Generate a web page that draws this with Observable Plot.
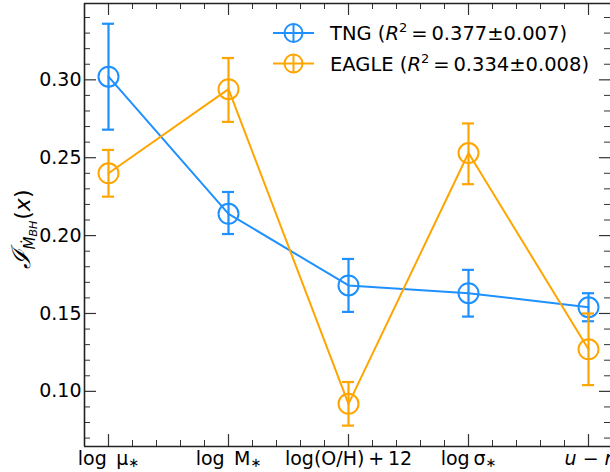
<!DOCTYPE html>
<html>
<head>
<meta charset="utf-8">
<script src="https://cdn.jsdelivr.net/npm/d3@7"></script>
<script src="https://cdn.jsdelivr.net/npm/@observablehq/plot@0.6"></script>
<style>
  html, body { margin: 0; padding: 0; background: #fff; }
  svg { font-family: "DejaVu Sans", sans-serif; }
</style>
</head>
<body>
<div id="chart"></div>
<script>
const categories = ["log μ*", "log M*", "log(O/H) + 12", "log σ*", "u − r"];
const tngValues = [0.302, 0.214, 0.168, 0.163, 0.154];
const tngLow    = [0.268, 0.201, 0.151, 0.148, 0.145];
const tngHigh   = [0.336, 0.228, 0.185, 0.178, 0.163];
const eagleValues = [0.240, 0.294, 0.092, 0.253, 0.127];
const eagleLow    = [0.225, 0.273, 0.078, 0.233, 0.104];
const eagleHigh   = [0.255, 0.314, 0.106, 0.272, 0.150];
const yTicks = [0.10, 0.15, 0.20, 0.25, 0.30];
const seriesNames = ["TNG", "EAGLE"];
const seriesR2 = ["0.377±0.007", "0.334±0.008"];

const colors = {TNG: "#1E90FF", EAGLE: "#FFA500"};
const W = 610, H = 472, mL = 84, mR = 0, mT = 3, mB = 26;
const innerW = W - mL - mR, innerH = H - mT - mB;
const xDomain = [-0.2, 4.2];
const yDomain = [0.0646, 0.349];

function rows(name, vals, lo, hi) {
  return vals.map((v, i) => ({series: name, i, v, lo: lo[i], hi: hi[i]}));
}
const tng = rows("TNG", tngValues, tngLow, tngHigh);
const eagle = rows("EAGLE", eagleValues, eagleLow, eagleHigh);

const xMajor = d3.range(categories.length);
const xMinor = d3.range(-1, 22).map(k => k * 0.2).filter(v => v >= xDomain[0] && v <= xDomain[1] && Math.abs(v - Math.round(v)) > 1e-6);
const yMinor = d3.range(7, 35).map(k => k / 100).filter(v => !yTicks.some(t => Math.abs(t - v) < 1e-6));

const tickColor = "#333";
function seriesMarks(data, color) {
  return [
    Plot.line(data, {x: "i", y: "v", stroke: color, strokeWidth: 2}),
    Plot.ruleX(data, {x: "i", y1: "lo", y2: "hi", stroke: color, strokeWidth: 2.2}),
    Plot.ruleY(data, {x1: "i", x2: "i", y: "hi", stroke: color, strokeWidth: 2.2, insetLeft: -6, insetRight: -6}),
    Plot.ruleY(data, {x1: "i", x2: "i", y: "lo", stroke: color, strokeWidth: 2.2, insetLeft: -6, insetRight: -6}),
    Plot.dot(data, {x: "i", y: "v", r: 10, stroke: color, strokeWidth: 2, fill: "none"})
  ];
}

const chart = Plot.plot({
  width: W, height: H,
  marginLeft: mL, marginRight: mR, marginTop: mT, marginBottom: mB,
  style: {fontFamily: "DejaVu Sans, sans-serif", fontSize: "19px", color: "#000", background: "#fff"},
  x: {type: "linear", domain: xDomain, range: [mL, 612], axis: null, label: null},
  y: {domain: yDomain, axis: null, label: null},
  marks: [
    // ticks (inward)
    Plot.tickX(xMajor, {x: d => d, insetTop: innerH - 12, stroke: tickColor, strokeWidth: 1.2}),
    Plot.tickX(xMinor, {x: d => d, insetTop: innerH - 6, stroke: tickColor, strokeWidth: 1}),
    Plot.tickX(xMajor, {x: d => d, insetBottom: innerH - 12, stroke: tickColor, strokeWidth: 1.2}),
    Plot.tickX(xMinor, {x: d => d, insetBottom: innerH - 6, stroke: tickColor, strokeWidth: 1}),
    Plot.tickY(yTicks, {y: d => d, insetRight: innerW - 12, stroke: tickColor, strokeWidth: 1.2}),
    Plot.tickY(yMinor, {y: d => d, insetRight: innerW - 6, stroke: tickColor, strokeWidth: 1}),
    Plot.tickY(yTicks, {y: d => d, insetLeft: innerW - 11, stroke: tickColor, strokeWidth: 1.2}),
    Plot.tickY(yMinor, {y: d => d, insetLeft: innerW - 6, stroke: tickColor, strokeWidth: 1}),
    // spines
    Plot.ruleX([xDomain[0]], {stroke: "#222", strokeWidth: 1.6}),
    Plot.ruleY(yDomain, {stroke: "#222", strokeWidth: 1.6}),
    // axes labels
    Plot.axisY({ticks: yTicks, tickSize: 0, tickPadding: 3, tickFormat: d3.format(".2f"), fontSize: 19, label: null}),
    Plot.axisX({ticks: xMajor, tickSize: 0, tickPadding: 5, tickFormat: i => categories[i], fontSize: 19, label: null}),
    ...seriesMarks(tng, colors.TNG),
    ...seriesMarks(eagle, colors.EAGLE)
  ]
});
document.getElementById("chart").appendChild(chart);

const svg = d3.select(chart);

// rich x tick labels
const richLabels = [
  [["log\u2002μ"], ["∗", "sub"]],
  [["log\u2002M"], ["∗", "sub"]],
  [["log(O/H)\u2009+\u200912"]],
  [["log\u2009σ"], ["∗", "sub"]],
  [["u", "it"], [" \u2212 "], ["r", "it"]]
];
svg.selectAll('g[aria-label="x-axis tick label"] text').each(function(d, k) {
  const t = d3.select(this);
  const parts = richLabels[k];
  if (!parts) return;
  t.text(null);
  parts.forEach(([s, kind]) => {
    const ts = t.append("tspan").text(s);
    if (kind === "it") ts.attr("font-style", "italic");
    if (kind === "sub") { ts.attr("font-size", 13).attr("dy", 2); }
  });
});

// y label
const yl = svg.append("text")
  .attr("transform", `translate(30, 229) rotate(-90)`)
  .attr("text-anchor", "middle")
  .attr("fill", "#000");
yl.append("tspan").text("ℐ").attr("font-size", 26).attr("font-style", "italic").attr("font-family", "DejaVu Serif, serif");
yl.append("tspan").text("Ṁ").attr("font-size", 15).attr("font-style", "italic").attr("dy", 5);
yl.append("tspan").text("BH").attr("font-size", 11).attr("font-style", "italic").attr("dy", 2);
yl.append("tspan").text("(").attr("font-size", 22).attr("dy", -7).attr("dx", 1);
yl.append("tspan").text("x").attr("font-size", 22).attr("font-style", "italic");
yl.append("tspan").text(")").attr("font-size", 22);

// legend
const legend = svg.append("g").attr("text-anchor", "start");
seriesNames.forEach((name, k) => {
  const cy = 33 + k * 30.5;
  const c = colors[name];
  const g = legend.append("g");
  g.append("line").attr("x1", 273).attr("x2", 314).attr("y1", cy).attr("y2", cy).attr("stroke", c).attr("stroke-width", 2);
  g.append("line").attr("x1", 293.5).attr("x2", 293.5).attr("y1", cy - 9).attr("y2", cy + 9).attr("stroke", c).attr("stroke-width", 2);
  g.append("circle").attr("cx", 293.5).attr("cy", cy).attr("r", 9).attr("fill", "none").attr("stroke", c).attr("stroke-width", 2);
  const t = g.append("text").attr("x", 330).attr("y", cy + 7).attr("font-size", 19.5).attr("fill", "#000").attr("text-anchor", "start");
  t.append("tspan").text(name + " (");
  t.append("tspan").text("R").attr("font-style", "italic");
  t.append("tspan").text("2").attr("font-size", 13).attr("dy", -8);
  t.append("tspan").text("\u2009=\u2009" + seriesR2[k] + ")").attr("dy", 8);
});
</script>
</body>
</html>
